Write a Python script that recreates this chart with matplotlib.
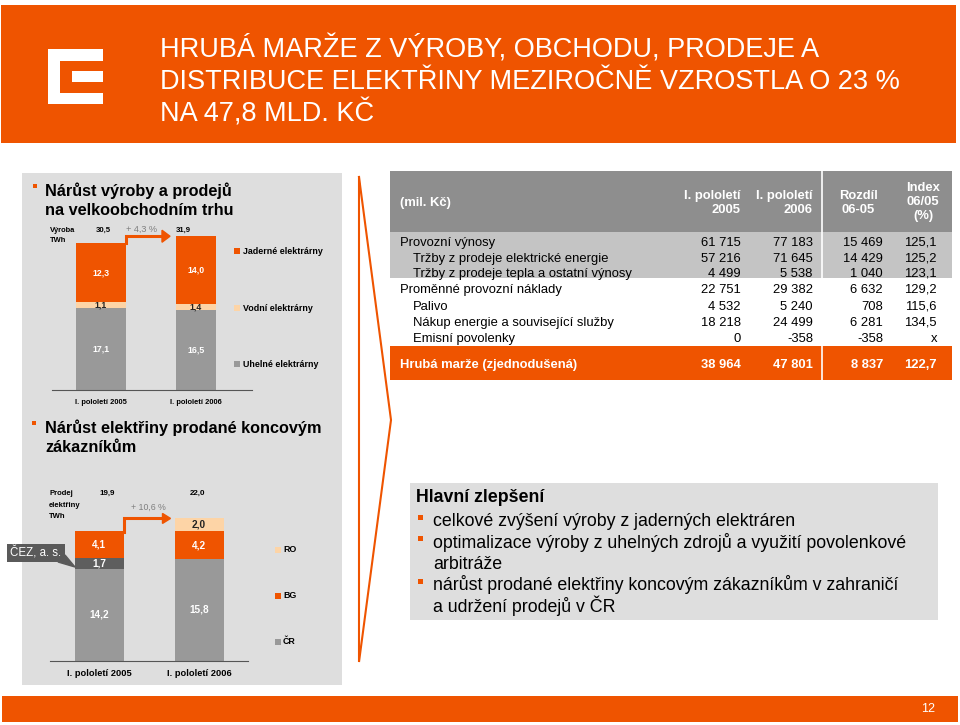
import matplotlib
matplotlib.use('Agg')
import matplotlib.pyplot as plt
from matplotlib.patches import Rectangle, Polygon

plt.rcParams['font.family'] = ['Liberation Sans', 'DejaVu Sans']

W, H, DPI = 960, 725, 100
ORANGE = '#EF5400'
PEACH = '#FDD4A6'
GRAY_BAR = '#999999'
DARK_BAR = '#5E5E5E'
PANEL = '#DEDEDE'
HEAD_GRAY = '#8E8E8E'
ROW_GRAY = '#C4C4C4'

# ---------------- data ----------------
title_lines = ['HRUBÁ MARŽE Z VÝROBY, OBCHODU, PRODEJE A',
               'DISTRIBUCE ELEKTŘINY MEZIROČNĚ VZROSTLA O 23 %',
               'NA 47,8 MLD. KČ']

periods = ['I. pololetí 2005', 'I. pololetí 2006']
coal = [17.1, 16.5]
hydro = [1.1, 1.4]
nuclear = [12.3, 14.0]
production_total = [30.5, 31.9]
production_growth = '+ 4,3 %'
production_legend = ['Jaderné elektrárny', 'Vodní elektrárny', 'Uhelné elektrárny']

sales_cr = [14.2, 15.8]
sales_cez = [1.7, 0.0]
sales_bg = [4.1, 4.2]
sales_ro = [0.0, 2.0]
sales_total = [19.9, 22.0]
sales_growth = '+ 10,6 %'
sales_legend = ['RO', 'BG', 'ČR']

table_columns = ['I. pololetí\n2005', 'I. pololetí\n2006', 'Rozdíl\n06-05', 'Index\n06/05\n(%)']
row_labels = ['Provozní výnosy',
              'Tržby z prodeje elektrické energie',
              'Tržby z prodeje tepla a ostatní výnosy',
              'Proměnné provozní náklady',
              'Palivo',
              'Nákup energie a související služby',
              'Emisní povolenky']
row_indent = [0, 1, 1, 0, 1, 1, 1]
h1_2005 = ['61 715', '57 216', '4 499', '22 751', '4 532', '18 218', '0']
h1_2006 = ['77 183', '71 645', '5 538', '29 382', '5 240', '24 499', '-358']
diff_06_05 = ['15 469', '14 429', '1 040', '6 632', '708', '6 281', '-358']
index_06_05 = ['125,1', '125,2', '123,1', '129,2', '115,6', '134,5', 'x']
total_label = 'Hrubá marže (zjednodušená)'
total_values = ['38 964', '47 801', '8 837', '122,7']

improvements_title = 'Hlavní zlepšení'
improvements = [['celkové zvýšení výroby z jaderných elektráren'],
                ['optimalizace výroby z uhelných zdrojů a využití povolenkové', 'arbitráže'],
                ['nárůst prodané elektřiny koncovým zákazníkům v zahraničí', 'a udržení prodejů v ČR']]
page_number = '12'


def fmt(v):
    return f'{v:.1f}'.replace('.', ',')


fig = plt.figure(figsize=(W / DPI, H / DPI), dpi=DPI)
bg = fig.add_axes([0, 0, 1, 1])
bg.set_xlim(0, W)
bg.set_ylim(H, 0)
bg.axis('off')


def rect(ax, x0, y0, x1, y1, color, **kw):
    ax.add_patch(Rectangle((x0, y0), x1 - x0, y1 - y0, facecolor=color,
                           edgecolor='none', **kw))


def px_axes(x0, y0, x1, y1):
    a = fig.add_axes([x0 / W, 1 - y1 / H, (x1 - x0) / W, (y1 - y0) / H])
    a.patch.set_alpha(0)
    return a


# ---------------- banner ----------------
rect(bg, 1, 5, 956, 143, ORANGE)
for (x0, y0, x1, y1) in [(48, 49, 60, 104), (48, 49, 103, 61), (48, 93, 103, 104), (72, 71, 103, 82)]:
    rect(bg, x0, y0, x1, y1, 'white')
for i, line in enumerate(title_lines):
    bg.text(160, 57 + 32 * i, line, color='white', fontsize=19.5, va='baseline', ha='left')

# bottom banner
rect(bg, 2, 696, 958, 722, ORANGE)
bg.text(928, 709, page_number, color='white', fontsize=9, ha='center', va='center')

# ---------------- left panel ----------------
rect(bg, 22, 173, 342, 685, PANEL)
rect(bg, 33, 184, 37, 188, ORANGE)
bg.text(45, 196, 'Nárůst výroby a prodejů', fontsize=11.7, fontweight='bold', va='baseline')
bg.text(45, 215, 'na velkoobchodním trhu', fontsize=11.7, fontweight='bold', va='baseline')
rect(bg, 32, 421, 36, 425, ORANGE)
bg.text(45, 433, 'Nárůst elektřiny prodané koncovým', fontsize=11.7, fontweight='bold', va='baseline')
bg.text(45, 452, 'zákazníkům', fontsize=11.7, fontweight='bold', va='baseline')

# bracket
bg.plot([359, 391, 359, 359], [177, 420, 662, 177], color=ORANGE, lw=1.5,
        solid_joinstyle='miter')

# ---------------- top chart ----------------
ax1 = px_axes(52, 200, 252, 390)
u1, s1 = 95.0, 4.82
ax1.set_xlim((52 - 101) / u1, (252 - 101) / u1)
ax1.set_ylim(0, 190 / s1)
xs = [0, 1]
w1 = [50 / u1, 40 / u1]
b2 = [c + h for c, h in zip(coal, hydro)]
ax1.bar(xs, coal, w1, color=GRAY_BAR)
ax1.bar(xs, hydro, w1, bottom=coal, color=PEACH)
ax1.bar(xs, nuclear, w1, bottom=b2, color=ORANGE)
for i in xs:
    ax1.text(i, coal[i] / 2, fmt(coal[i]), color='white', fontweight='bold', fontsize=6.3,
             ha='center', va='center')
    ax1.text(i, coal[i] + hydro[i] / 2, fmt(hydro[i]), color='#222222', fontweight='bold',
             fontsize=6.3, ha='center', va='center')
    ax1.text(i, b2[i] + nuclear[i] / 2, fmt(nuclear[i]), color='white', fontweight='bold',
             fontsize=6.3, ha='center', va='center')
for side in ['top', 'right', 'left']:
    ax1.spines[side].set_visible(False)
ax1.spines['bottom'].set_color('#555555')
ax1.spines['bottom'].set_linewidth(0.8)
ax1.set_yticks([])
ax1.set_xticks(xs)
ax1.set_xticklabels(periods, fontsize=5.4, fontweight='bold')
ax1.tick_params(axis='x', length=0, pad=6.5)

xa = w1[0] / 2
xt = 1 - w1[1] / 2 - 6 / u1
hl = 8 / u1
hh = 6 / s1
ax1.plot([xa, xa, xt - hl], [production_total[0], production_total[1], production_total[1]],
         color=ORANGE, lw=2.2, clip_on=False, solid_joinstyle='miter')
ax1.add_patch(Polygon([(xt - hl, production_total[1] - hh), (xt, production_total[1]),
                       (xt - hl, production_total[1] + hh)], closed=True, color=ORANGE,
                      clip_on=False))

bg.text(50, 230, 'Výroba', fontsize=5.4, fontweight='bold', va='center')
bg.text(50, 240, 'TWh', fontsize=5.4, fontweight='bold', va='center')
bg.text(103, 230, fmt(production_total[0]), fontsize=5.6, fontweight='bold', ha='center', va='center')
bg.text(183, 230, fmt(production_total[1]), fontsize=5.6, fontweight='bold', ha='center', va='center')
bg.text(142, 229, production_growth, fontsize=6.6, color='#7F7F7F', ha='center', va='center')

leg_colors1 = [ORANGE, PEACH, GRAY_BAR]
for lbl, col, y in zip(production_legend, leg_colors1, [251, 308, 364]):
    rect(bg, 234, y - 3, 240, y + 3, col)
    bg.text(243, y, lbl, fontsize=6.4, fontweight='bold', va='center')

# ---------------- bottom chart ----------------
ax2 = px_axes(50, 470, 248, 661)
u2, s2 = 100.0, 6.48
ax2.set_xlim((50 - 99) / u2, (248 - 99) / u2)
ax2.set_ylim(0, 191 / s2)
w2 = 0.49
c1 = sales_cr
c2 = [a + b for a, b in zip(c1, sales_cez)]
c3 = [a + b for a, b in zip(c2, sales_bg)]
ax2.bar(xs, sales_cr, w2, color=GRAY_BAR)
ax2.bar(xs, sales_cez, w2, bottom=c1, color=DARK_BAR)
ax2.bar(xs, sales_bg, w2, bottom=c2, color=ORANGE)
ax2.bar(xs, sales_ro, w2, bottom=c3, color=PEACH)
for i in xs:
    ax2.text(i, sales_cr[i] / 2, fmt(sales_cr[i]), color='white', fontweight='bold', fontsize=7.2,
             ha='center', va='center')
    if sales_cez[i] > 0:
        ax2.text(i, c1[i] + sales_cez[i] / 2, fmt(sales_cez[i]), color='white', fontweight='bold',
                 fontsize=7.2, ha='center', va='center')
    ax2.text(i, c2[i] + sales_bg[i] / 2, fmt(sales_bg[i]), color='white', fontweight='bold',
             fontsize=7.2, ha='center', va='center')
    if sales_ro[i] > 0:
        ax2.text(i, c3[i] + sales_ro[i] / 2, fmt(sales_ro[i]), color='#222222', fontweight='bold',
                 fontsize=7.2, ha='center', va='center')
for side in ['top', 'right', 'left']:
    ax2.spines[side].set_visible(False)
ax2.spines['bottom'].set_color('#555555')
ax2.spines['bottom'].set_linewidth(0.8)
ax2.set_yticks([])
ax2.set_xticks(xs)
ax2.set_xticklabels(periods, fontsize=6.7, fontweight='bold')
ax2.tick_params(axis='x', length=0, pad=5.5)

xa = w2 / 2
xt = 1 - w2 / 2 - 4 / u2
hl = 8 / u2
hh = 5 / s2
ax2.plot([xa, xa, xt - hl], [sales_total[0], sales_total[1], sales_total[1]],
         color=ORANGE, lw=2.2, clip_on=False, solid_joinstyle='miter')
ax2.add_patch(Polygon([(xt - hl, sales_total[1] - hh), (xt, sales_total[1]),
                       (xt - hl, sales_total[1] + hh)], closed=True, color=ORANGE, clip_on=False))

for j, t in enumerate(['Prodej', 'elektřiny', 'TWh']):
    bg.text(49, 493 + 12 * j, t, fontsize=5.5, fontweight='bold', va='center')
bg.text(107, 493, fmt(sales_total[0]), fontsize=5.8, fontweight='bold', ha='center', va='center')
bg.text(198, 493, fmt(sales_total[1]), fontsize=5.8, fontweight='bold', ha='center', va='center')
bg.text(148, 507, sales_growth, fontsize=6.3, color='#7F7F7F', ha='center', va='center')

leg_colors2 = [PEACH, ORANGE, GRAY_BAR]
for lbl, col, y in zip(sales_legend, leg_colors2, [550, 596, 642]):
    rect(bg, 275, y - 3, 281, y + 3, col)
    bg.text(283, y, lbl, fontsize=6.4, fontweight='bold', va='center')

# ---------------- table ----------------
TX0, TX1 = 390, 952
rect(bg, TX0, 171, TX1, 232, HEAD_GRAY)
rect(bg, TX0, 232, TX1, 278, ROW_GRAY)
rect(bg, TX0, 346, TX1, 380, ORANGE)
bg.plot([822, 822], [171, 278], color='white', lw=1.2)
bg.plot([822, 822], [346, 380], color='white', lw=1.2)

TFS = 9.4
bg.text(400, 203, '(mil. Kč)', color='white', fontweight='bold', fontsize=TFS, va='center')
col_right = [741, 813, 883, 937]
bg.text(col_right[0], 203, table_columns[0], color='white', fontweight='bold', fontsize=TFS,
        ha='right', va='center', multialignment='right', linespacing=1.25)
bg.text(col_right[1], 203, table_columns[1], color='white', fontweight='bold', fontsize=TFS,
        ha='right', va='center', multialignment='right', linespacing=1.25)
bg.text(858, 203, table_columns[2], color='white', fontweight='bold', fontsize=TFS,
        ha='center', va='center', multialignment='center', linespacing=1.25)
bg.text(923, 202, table_columns[3], color='white', fontweight='bold', fontsize=TFS,
        ha='center', va='center', multialignment='center', linespacing=1.2)

row_y = [241, 257, 272, 288, 305, 321, 337]
for i, lbl in enumerate(row_labels):
    yb = row_y[i] + 4.5
    bg.text(400 + 13 * row_indent[i], yb, lbl, fontsize=TFS, va='baseline')
    for col, xr in zip([h1_2005, h1_2006, diff_06_05, index_06_05], col_right):
        bg.text(xr, yb, col[i], fontsize=TFS, ha='right', va='baseline')
bg.text(400, 367.5, total_label, color='white', fontweight='bold', fontsize=TFS, va='baseline')
for v, xr in zip(total_values, col_right):
    bg.text(xr, 367.5, v, color='white', fontweight='bold', fontsize=TFS, ha='right', va='baseline')

# ---------------- improvements box ----------------
rect(bg, 410, 483, 938, 620, PANEL)
BFS = 12.8
bg.text(416, 502, improvements_title, fontsize=BFS, fontweight='bold', va='baseline')
y = 521
for item in improvements:
    rect(bg, 418, y - 6, 423, y - 1, ORANGE)
    for line in item:
        bg.text(433, y + 5.5, line, fontsize=BFS, va='baseline')
        y += 21.3

# ---------------- top overlay: callout ----------------
top = fig.add_axes([0, 0, 1, 1])
top.set_xlim(0, W)
top.set_ylim(H, 0)
top.axis('off')
top.patch.set_alpha(0)
rect(top, 7, 544, 65, 562, '#5A5A5A')
top.add_patch(Polygon([(58, 562), (65, 555), (75, 567)], closed=True, color='#5A5A5A'))
top.text(36, 553, 'ČEZ, a. s.', color='white', fontsize=8.3, ha='center', va='center')

fig.savefig('out.png', dpi=DPI)
